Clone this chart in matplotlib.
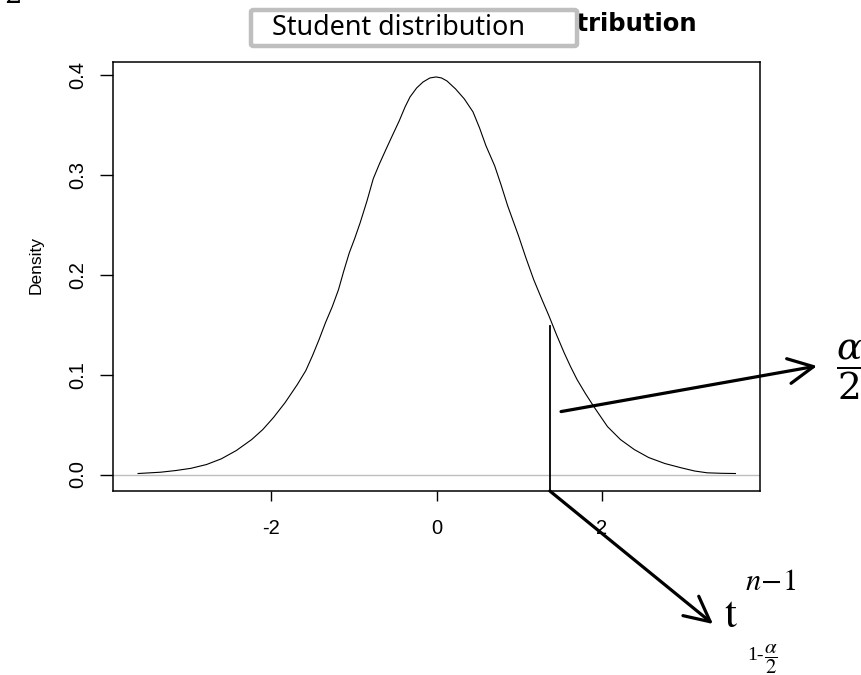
import matplotlib
matplotlib.use("Agg")
import matplotlib.pyplot as plt
from matplotlib.patches import FancyBboxPatch

# density curve of the simulated Student sample
xs = [-3.607, -3.335, -3.15, -2.968, -2.78, -2.601, -2.42, -2.234, -2.10,
      -1.971, -1.83, -1.683, -1.58, -1.499, -1.42, -1.342, -1.26, -1.185,
      -1.12, -1.054, -0.99, -0.923, -0.84, -0.765, -0.69, -0.608, -0.53,
      -0.451, -0.38, -0.320, -0.24, -0.162, -0.08, -0.005, 0.06, 0.126,
      0.23, 0.336, 0.441, 0.52, 0.598, 0.703, 0.78, 0.860, 0.991, 1.08,
      1.175, 1.27, 1.358, 1.45, 1.542, 1.62, 1.699, 1.80, 1.909, 2.066,
      2.223, 2.39, 2.564, 2.76, 2.958, 3.12, 3.272, 3.45, 3.613]
dens = [0.001, 0.0023, 0.004, 0.0062, 0.010, 0.0157, 0.024, 0.035, 0.045,
        0.057, 0.072, 0.090, 0.104, 0.119, 0.135, 0.152, 0.168, 0.185,
        0.204, 0.222, 0.236, 0.252, 0.274, 0.296, 0.311, 0.326, 0.340,
        0.354, 0.368, 0.378, 0.387, 0.393, 0.397, 0.398, 0.397, 0.394,
        0.386, 0.376, 0.363, 0.347, 0.329, 0.309, 0.290, 0.269, 0.239, 0.217,
        0.195, 0.176, 0.159, 0.140, 0.122, 0.108, 0.095, 0.081, 0.067, 0.048,
        0.035, 0.025, 0.017, 0.011, 0.0067, 0.0035, 0.0017, 0.0012, 0.001]

# quantile marker and where the alpha/2 arrow starts
t_quant = 1.37
t_height = 0.149
tail_point = (1.505, 0.063)

xticks = [-2, 0, 2]
yticks = [0.0, 0.1, 0.2, 0.3, 0.4]

fig = plt.figure(figsize=(8.62, 6.75), dpi=100)
ax = fig.add_axes([0.1311, 0.2726, 0.7506, 0.6356])

ax.plot(xs, dens, color="black", lw=0.8, solid_joinstyle="round")
ax.axhline(0, color="#bebebe", lw=1)
ax.set_xlim(-3.91, 3.91)
ax.set_ylim(-0.0165, 0.413)
ax.plot([t_quant, t_quant], [-0.0165, t_height], color="black", lw=1.3, clip_on=False)

for s in ax.spines.values():
    s.set_linewidth(1.1)
ax.set_xticks(xticks)
ax.set_xticklabels([str(v) for v in xticks])
ax.set_yticks(yticks)
ax.set_yticklabels(["%.1f" % v for v in yticks], rotation=90, va="center")
ax.tick_params(axis="x", length=7, width=1, pad=13, labelsize=14.5)
ax.tick_params(axis="y", length=9.5, width=1, pad=9, labelsize=14.5)
for lab in ax.get_xticklabels() + ax.get_yticklabels():
    lab.set_family("Liberation Sans")
ax.set_ylabel("Density", fontsize=12.5, family="Liberation Sans")
ax.yaxis.set_label_coords(-0.108, 0.527)

# bold title, mostly hidden behind the boxed caption
fig.text(697 / 862, 1 - 31 / 675, "Student distribution", ha="right", va="baseline",
         fontsize=17.5, fontweight="bold", family="DejaVu Sans")
box = FancyBboxPatch((251 / 862, 1 - 46 / 675), 326 / 862, 36 / 675,
                     boxstyle="round,pad=0,rounding_size=0.003",
                     transform=fig.transFigure, facecolor="white",
                     edgecolor="#bfbfbf", lw=3.2, zorder=5)
fig.patches.append(box)
fig.text(272 / 862, 1 - 28 / 675, "Student distribution", ha="left", va="center",
         fontsize=19.4, family="Noto Sans", zorder=6)

# stray glyph cut off at the top-left corner
fig.text(4 / 862, 1 - 3 / 675, "2", ha="left", va="baseline", fontsize=20,
         family="DejaVu Serif")

arrow = dict(arrowstyle="->,head_length=0.9,head_width=0.45", lw=2.3,
             color="black", mutation_scale=20, shrinkA=0, shrinkB=0)
ax.annotate("", xy=(817 / 862, 1 - 366 / 675), xycoords="figure fraction",
            xytext=tail_point, textcoords="data", arrowprops=arrow)
ax.annotate("", xy=(713 / 862, 1 - 624 / 675), xycoords="figure fraction",
            xytext=(t_quant, -0.0165), textcoords="data", arrowprops=arrow)

fig.text(836 / 862, 1 - 370 / 675, r"$\dfrac{\alpha}{2}$", ha="left", va="center",
         fontsize=27, math_fontfamily="dejavuserif")

# t quantile label: base letter, superscript and fractional subscript
fig.text(724 / 862, 1 - 627 / 675, r"$\mathrm{t}$", ha="left", va="baseline",
         fontsize=31, math_fontfamily="stix")
fig.text(745 / 862, 1 - 590 / 675, r"$n\!-\!1$", ha="left", va="baseline",
         fontsize=22, math_fontfamily="stix")
fig.text(747 / 862, 1 - 660 / 675, "1-", ha="left", va="baseline",
         fontsize=14, family="Liberation Serif")
fig.text(764 / 862, 1 - 659 / 675, r"$\dfrac{\alpha}{2}$", ha="left", va="center",
         fontsize=15, math_fontfamily="stix")

fig.savefig("out.png", dpi=100)
